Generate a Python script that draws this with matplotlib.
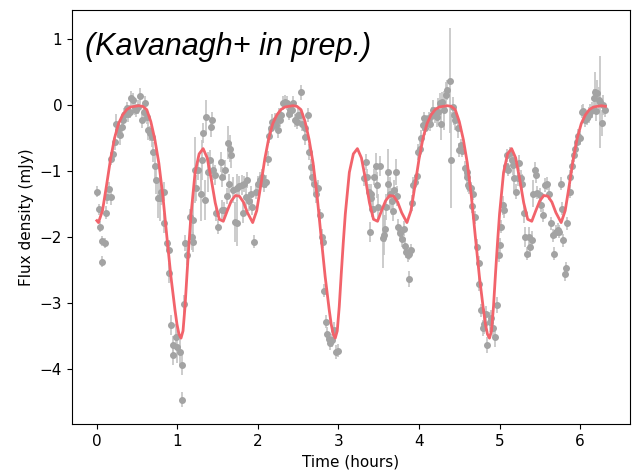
import matplotlib
matplotlib.use("Agg")
import matplotlib.pyplot as plt

# light curve measurements (time in hours, flux density in mJy, 1-sigma error)
time_h = [
    0.00, 0.03, 0.04, 0.06, 0.10, 0.07, 0.11, 0.13, 0.15, 0.17, 0.18, 0.20, 0.22, 0.24, 0.26, 0.29,
    0.31, 0.33, 0.34, 0.37, 0.39, 0.41, 0.43, 0.45, 0.47, 0.49, 0.51, 0.53, 0.56, 0.58, 0.60, 0.62,
    0.64, 0.66, 0.68, 0.70, 0.72, 0.74, 0.76, 0.78, 0.80, 0.83, 0.84, 0.87, 0.89, 0.90, 0.92, 0.94,
    0.95, 0.98, 1.00, 1.03, 1.06, 1.06, 1.08, 1.10, 1.12, 1.16, 1.18, 1.19, 1.20, 1.22, 1.23, 1.26,
    1.29, 1.31, 1.32, 1.34, 1.35, 1.38, 1.40, 1.42, 1.43, 1.44, 1.47, 1.48, 1.51, 1.54, 1.55, 1.56,
    1.58, 1.59, 1.61, 1.63, 1.64, 1.65, 1.67, 1.69, 1.71, 1.74, 1.74, 1.77, 1.80, 1.81, 1.83, 1.85,
    1.87, 1.89, 1.91, 1.93, 1.95, 1.98, 2.00, 2.02, 2.05, 2.07, 2.10, 2.12, 2.14, 2.16, 2.18, 2.21,
    2.23, 2.25, 2.26, 2.27, 2.29, 2.31, 2.34, 2.36, 2.38, 2.40, 2.42, 2.44, 2.46, 2.48, 2.50, 2.52,
    2.53, 2.55, 2.58, 2.59, 2.62, 2.63, 2.66, 2.67, 2.70, 2.72, 2.75, 2.77, 2.79, 2.81, 2.82, 2.84,
    2.86, 2.88, 2.89, 2.92, 2.94, 2.97, 2.99,
    3.32, 3.34, 3.36, 3.38, 3.39, 3.40, 3.41, 3.42, 3.43, 3.44, 3.47, 3.48, 3.49, 3.52, 3.55, 3.57,
    3.58, 3.59, 3.61, 3.62, 3.64, 3.66, 3.68, 3.69, 3.71, 3.73, 3.74, 3.76, 3.79, 3.81, 3.82, 3.84,
    3.86, 3.88, 3.90, 3.88, 3.91, 3.93, 3.95, 3.97, 3.99, 4.01, 4.03, 4.05, 4.06, 4.07, 4.10, 4.12,
    4.14, 4.16, 4.18, 4.20, 4.22, 4.24, 4.26, 4.27, 4.29, 4.31, 4.34, 4.35, 4.38, 4.40, 4.42, 4.43,
    4.45, 4.48, 4.50, 4.52, 4.54, 4.57, 4.59, 4.60, 4.61, 4.62, 4.65, 4.67, 4.66, 4.70, 4.72, 4.74,
    4.75, 4.77, 4.79, 4.81, 4.83, 4.85, 4.88, 4.90, 4.92, 4.94, 4.97, 4.99, 5.00, 5.02, 5.04, 5.06,
    5.08, 5.09, 5.11, 5.13, 5.15, 5.17, 5.18, 5.20, 5.23, 5.24, 5.27, 5.28, 5.30, 5.32, 5.34, 5.36,
    5.38, 5.40, 5.41, 5.44, 5.45, 5.47, 5.50, 5.52, 5.54, 5.57, 5.59, 5.61, 5.64, 5.66, 5.68, 5.70,
    5.72, 5.74, 5.76, 5.77, 5.79, 5.81, 5.83, 5.84, 5.87, 5.88, 5.90, 5.92, 5.94, 5.96, 5.98, 6.00,
    6.02, 6.04, 6.06, 6.08, 6.11, 6.12, 6.15, 6.17, 6.19, 6.20, 6.21, 6.23, 6.25, 6.27, 6.29, 6.31,
]
flux_mjy = [
    -1.31, -1.58, -1.84, -2.06, -2.09, -2.37, -1.63, -1.40, -1.27, -1.40, -0.81, -0.74, -0.56, -0.28, -0.38, -0.45,
    -0.33, -0.23, -0.15, -0.05, -0.13, -0.10, 0.10, 0.08, -0.05, -0.08, -0.03, 0.14, -0.23, -0.10, 0.03, -0.18,
    -0.38, -0.43, -0.48, -0.71, -0.93, -1.14, -1.41, -1.41, -1.31, -1.31, -1.79, -2.09, -2.20, -2.54, -3.33, -3.64,
    -3.79, -3.51, -3.66, -3.74, -3.94, -4.46, -3.02, -2.09, -2.27, -1.69, -2.00, -2.07, -1.74, -0.98, -1.26, -0.98,
    -1.35, -0.83, -0.42, -1.44, -0.18, -1.01, -0.83, -0.33, -0.23, -0.98, -1.06, -1.63, -1.84, -0.86, -1.09, -1.59,
    -1.59, -0.98, -1.38, -0.57, -1.19, -0.66, -0.76, -1.29, -1.77, -1.79, -1.25, -1.23, -1.21, -1.63, -1.20, -1.40,
    -1.14, -1.46, -1.34, -1.54, -2.07, -1.31, -1.19, -1.14, -1.09, -1.19, -1.16, -0.81, -0.47, -0.35, -0.25, -0.22,
    -0.30, -0.38, -0.15, -0.23, -0.15, 0.03, 0.05, 0.03, -0.13, -0.08, -0.08, 0.03, -0.23, -0.25, -0.15, -0.15,
    0.19, -0.28, -0.48, -0.35, -0.15, -0.71, -0.94, -1.09, -1.19, -1.34, -1.26, -1.67, -2.00, -2.07, -2.81, -3.28,
    -3.46, -3.54, -3.61, -3.56, -3.41, -3.74, -3.72,
    -1.11, -0.86, -1.09, -1.31, -1.92, -1.41, -1.34, -1.57, -1.57, -1.09, -0.93, -1.21, -1.54, -0.92, -2.02, -1.97,
    -1.87, -1.54, -1.19, -1.01, -1.34, -1.46, -1.60, -1.29, -1.01, -1.38, -1.84, -1.94, -2.03, -1.87, -2.14, -2.22,
    -2.27, -2.25, -2.20, -2.64, -1.48, -1.21, -1.16, -1.08, -0.71, -0.66, -0.50, -0.30, -0.20, -0.35, -0.25, -0.20,
    -0.28, -0.15, -0.08, -0.15, -0.18, -0.10, 0.03, -0.28, 0.05, -0.08, 0.15, 0.23, 0.37, -0.83, -0.03, -0.15,
    -0.23, -0.35, -0.68, -0.61, -0.69, -0.96, -1.02, -1.09, -1.21, -1.24, -1.26, -1.34, -1.53, -1.70, -2.15, -2.39,
    -2.71, -3.11, -3.38, -3.31, -3.16, -3.64, -3.28, -3.23, -3.38, -3.51, -3.03, -2.27, -2.12, -1.84, -1.52, -1.59,
    -0.93, -0.76, -0.98, -0.73, -0.83, -0.91, -1.11, -1.31, -1.11, -0.88, -1.11, -1.19, -1.64, -2.00, -2.25, -2.00,
    -2.15, -2.05, -1.34, -0.98, -1.06, -1.33, -1.36, -1.52, -1.67, -1.21, -1.19, -1.34, -1.79, -1.97, -2.25, -1.92,
    -1.89, -1.92, -1.19, -1.57, -2.05, -2.56, -2.47, -1.79, -1.31, -1.09, -0.93, -0.76, -0.66, -0.56, -0.47, -0.50,
    -0.10, -0.09, -0.23, -0.20, -0.15, -0.10, -0.07, 0.10, 0.20, -0.09, 0.18, 0.08, 0.05, -0.27, 0.00, -0.08,
]
flux_err = [
    0.08, 0.08, 0.08, 0.08, 0.08, 0.08, 0.10, 0.10, 0.10, 0.12, 0.10, 0.10, 0.12, 0.15, 0.12, 0.15,
    0.10, 0.12, 0.10, 0.10, 0.12, 0.10, 0.12, 0.10, 0.10, 0.10, 0.10, 0.12, 0.12, 0.10, 0.10, 0.10,
    0.15, 0.12, 0.15, 0.15, 0.20, 0.20, 0.30, 0.35, 0.20, 0.15, 0.15, 0.12, 0.15, 0.15, 0.15, 0.15,
    0.15, 0.20, 0.25, 0.20, 0.15, 0.12, 0.15, 0.12, 0.15, 0.12, 0.20, 0.15, 0.30, 0.50, 0.20, 0.15,
    0.40, 0.30, 0.15, 0.30, 0.25, 0.30, 0.15, 0.15, 0.12, 0.15, 0.15, 0.12, 0.12, 0.15, 0.15, 0.15,
    0.12, 0.15, 0.12, 0.25, 0.15, 0.20, 0.20, 0.20, 0.30, 0.35, 0.20, 0.15, 0.15, 0.15, 0.12, 0.15,
    0.12, 0.15, 0.12, 0.12, 0.10, 0.12, 0.12, 0.12, 0.12, 0.12, 0.10, 0.12, 0.10, 0.10, 0.12, 0.10,
    0.10, 0.12, 0.10, 0.10, 0.10, 0.10, 0.10, 0.10, 0.10, 0.10, 0.10, 0.10, 0.10, 0.12, 0.10, 0.10,
    0.12, 0.12, 0.12, 0.10, 0.10, 0.12, 0.12, 0.12, 0.15, 0.15, 0.12, 0.10, 0.12, 0.10, 0.10, 0.10,
    0.10, 0.10, 0.10, 0.10, 0.12, 0.10, 0.10,
    0.12, 0.12, 0.12, 0.12, 0.15, 0.12, 0.15, 0.12, 0.15, 0.12, 0.20, 0.20, 0.20, 0.15, 0.45, 0.30,
    0.20, 0.20, 0.20, 0.35, 0.25, 0.20, 0.15, 0.15, 0.20, 0.15, 0.12, 0.12, 0.12, 0.12, 0.12, 0.10,
    0.10, 0.10, 0.10, 0.12, 0.12, 0.12, 0.10, 0.10, 0.12, 0.12, 0.12, 0.10, 0.10, 0.10, 0.10, 0.10,
    0.12, 0.12, 0.15, 0.12, 0.15, 0.20, 0.15, 0.25, 0.15, 0.30, 0.20, 0.15, 0.80, 0.73, 0.15, 0.15,
    0.15, 0.15, 0.10, 0.10, 0.10, 0.12, 0.12, 0.12, 0.10, 0.10, 0.10, 0.10, 0.10, 0.10, 0.12, 0.10,
    0.10, 0.10, 0.12, 0.15, 0.12, 0.12, 0.15, 0.12, 0.12, 0.15, 0.12, 0.10, 0.10, 0.10, 0.15, 0.12,
    0.10, 0.10, 0.10, 0.10, 0.10, 0.15, 0.20, 0.12, 0.12, 0.12, 0.12, 0.15, 0.15, 0.15, 0.10, 0.15,
    0.15, 0.15, 0.20, 0.12, 0.12, 0.10, 0.10, 0.10, 0.10, 0.10, 0.10, 0.10, 0.10, 0.10, 0.10, 0.10,
    0.10, 0.10, 0.10, 0.10, 0.10, 0.10, 0.10, 0.10, 0.10, 0.10, 0.10, 0.10, 0.10, 0.10, 0.10, 0.10,
    0.10, 0.10, 0.10, 0.10, 0.12, 0.12, 0.12, 0.15, 0.30, 0.15, 0.20, 0.20, 0.70, 0.20, 0.15, 0.10,
]

model_time = (
    [0.00, 0.02, 0.07, 0.12, 0.17, 0.22, 0.27, 0.32, 0.37, 0.42, 0.47, 0.52, 0.57, 0.62, 0.67,
     0.72, 0.77, 0.82, 0.87, 0.92, 0.97, 0.995, 1.02, 1.045, 1.07, 1.095, 1.12, 1.145, 1.17,
     1.22, 1.27, 1.32, 1.37, 1.42, 1.47, 1.52, 1.57, 1.62, 1.67, 1.72, 1.77, 1.82, 1.87]
    + [1.935, 1.985, 2.035, 2.085, 2.135, 2.185, 2.235, 2.285, 2.335, 2.385, 2.435, 2.485, 2.535,
       2.585, 2.635, 2.685, 2.735, 2.785, 2.835, 2.885, 2.91, 2.935, 2.96, 2.985, 3.01, 3.035,
       3.06, 3.085, 3.135, 3.185, 3.235, 3.285, 3.335, 3.385, 3.435, 3.485, 3.535, 3.585, 3.635,
       3.685, 3.735, 3.785]
    + [3.85, 3.90, 3.95, 4.00, 4.05, 4.10, 4.15, 4.20, 4.25, 4.30, 4.35, 4.40, 4.45, 4.50, 4.55,
       4.60, 4.65, 4.70, 4.75, 4.80, 4.825, 4.85, 4.875, 4.90, 4.925, 4.95, 4.975, 5.00, 5.05,
       5.10, 5.15, 5.20, 5.25, 5.30, 5.35, 5.40, 5.45, 5.50, 5.55, 5.60, 5.65, 5.70]
    + [5.765, 5.815, 5.865, 5.915, 5.965, 6.015, 6.065, 6.115, 6.165, 6.215, 6.265, 6.315]
)
model_flux = (
    [-1.75, -1.78, -1.60, -1.22, -0.82, -0.50, -0.28, -0.15, -0.07, -0.03, -0.02, -0.01, -0.02,
     -0.07, -0.25, -0.52, -0.88, -1.38, -2.00, -2.60, -3.10, -3.32, -3.47, -3.53, -3.42, -3.05,
     -2.55, -2.08, -1.65, -1.02, -0.74, -0.66, -0.80, -1.12, -1.48, -1.73, -1.76, -1.60, -1.45,
     -1.37, -1.38, -1.47, -1.63]
    + [-1.78, -1.60, -1.22, -0.82, -0.50, -0.28, -0.15, -0.07, -0.03, -0.02, -0.01, -0.02, -0.07,
       -0.25, -0.52, -0.88, -1.38, -2.00, -2.60, -3.10, -3.32, -3.47, -3.53, -3.42, -3.05, -2.55,
       -2.08, -1.65, -1.02, -0.74, -0.66, -0.80, -1.12, -1.48, -1.73, -1.76, -1.60, -1.45, -1.37,
       -1.38, -1.47, -1.63]
    + [-1.78, -1.60, -1.22, -0.82, -0.50, -0.28, -0.15, -0.07, -0.03, -0.02, -0.01, -0.02, -0.07,
       -0.25, -0.52, -0.88, -1.38, -2.00, -2.60, -3.10, -3.32, -3.47, -3.53, -3.42, -3.05, -2.55,
       -2.08, -1.65, -1.02, -0.74, -0.66, -0.80, -1.12, -1.48, -1.73, -1.76, -1.60, -1.45, -1.37,
       -1.38, -1.47, -1.63]
    + [-1.78, -1.60, -1.22, -0.82, -0.50, -0.28, -0.15, -0.07, -0.03, -0.02, -0.01, -0.02]
)

fig, ax = plt.subplots(figsize=(6.36, 4.74), dpi=100)
fig.subplots_adjust(left=0.113, right=0.9906, bottom=0.1055, top=0.979)

# data points in grey, error bars a bit lighter
ax.errorbar(time_h, flux_mjy, yerr=flux_err, fmt="o", ms=4, color="#a3a3a3",
            ecolor="#c4c4c4", elinewidth=1.2, capsize=0, zorder=2)

# model on top
ax.plot(model_time, model_flux, color="#f2636b", lw=2, zorder=3)

ax.set_xlim(-0.31, 6.62)
ax.set_ylim(-4.83, 1.44)
ax.set_xticks([0, 1, 2, 3, 4, 5, 6])
ax.set_yticks([-4, -3, -2, -1, 0, 1])
ax.set_xlabel("Time (hours)", fontsize=11)
ax.set_ylabel("Flux density (mJy)", fontsize=11)
ax.tick_params(labelsize=11)

ax.text(0.023, 0.91, "(Kavanagh+ in prep.)", transform=ax.transAxes,
        fontsize=22, fontstyle="italic", family="Liberation Sans", va="center")

fig.savefig("out.png", dpi=100)
